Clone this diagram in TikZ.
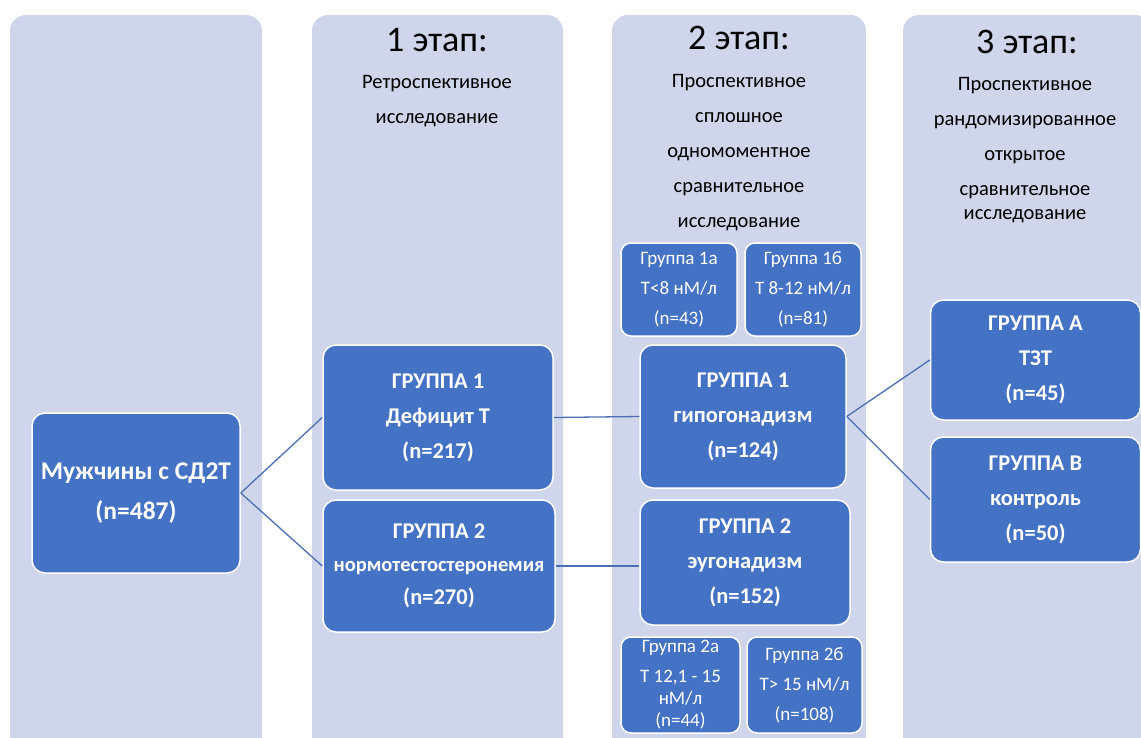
\documentclass[tikz,border=0pt]{standalone}
\usepackage{fontspec}
\setmainfont{Carlito}
\usetikzlibrary{positioning}
\definecolor{stageback}{HTML}{CFD5EA}
\definecolor{groupblue}{HTML}{4472C4}
\definecolor{linkblue}{HTML}{4A6FB5}

\begin{document}
\begin{tikzpicture}[x=1pt, y=-1pt]
        \tikzstyle{column} = [fill=stageback, rounded corners=16pt]
        \tikzstyle{group} = [rectangle, rounded corners=13pt, fill=groupblue, draw=white, line width=1.5pt, text=white, align=center, inner sep=0pt, font=\bfseries\fontsize{22.5}{35}\selectfont]
        \tikzstyle{subgroup} = [group, rounded corners=10pt, font=\fontsize{19}{30}\selectfont]
        \tikzstyle{heading} = [font=\fontsize{36}{40}\selectfont]
        \tikzstyle{caption} = [align=center, font=\fontsize{20.5}{35}\selectfont]
        \tikzstyle{link} = [draw=linkblue, line width=1.3pt]

        \clip (0,0) rectangle (1141,737);
        \fill[white] (0,0) rectangle (1141,737);

        % stage columns
        \foreach \xa/\xb in {10/262, 312/563, 612/866, 903/1151}
            \fill[column] (\xa,15) rectangle (\xb,800);

        \node (head1) [heading] at (437,40) {1 этап:};
        \node (head2) [heading] at (739,38) {2 этап:};
        \node (head3) [heading] at (1027,42) {3 этап:};
        \node (desc1) [caption] at (437,101) {Ретроспективное\\исследование};
        \node (desc2) [caption] at (739,153) {Проспективное\\сплошное\\одномоментное\\сравнительное\\исследование};
        \node (desc3) [caption] at (1025,150) {Проспективное\\рандомизированное\\открытое\\сравнительное\\[-11pt]исследование};

        \node (men) [group, minimum width=208, minimum height=160, font=\bfseries\fontsize{25.5}{40}\selectfont] at (136,493) {Мужчины с СД2Т\\(n=487)};
        \node (def) [group, minimum width=230, minimum height=145] at (438,417.5) {ГРУППА 1\\Дефицит Т\\(n=217)};
        \node (norm) [group, minimum width=232, minimum height=132, font=\bfseries\fontsize{20.5}{33}\selectfont] at (439,566) {\fontsize{22.5}{33}\selectfont ГРУППА 2\\нормотестостеронемия\\\fontsize{22.5}{33}\selectfont(n=270)};
        \node (hypo) [group, minimum width=206, minimum height=143] at (743,416.5) {ГРУППА 1\\гипогонадизм\\(n=124)};
        \node (eugo) [group, minimum width=210, minimum height=125] at (745,562.5) {ГРУППА 2\\эугонадизм\\(n=152)};
        \node (g1a) [subgroup, minimum width=116, minimum height=93] at (679,289.5) {Группа 1а\\Т<8 нМ/л\\(n=43)};
        \node (g1b) [subgroup, minimum width=116, minimum height=93] at (803,289.5) {Группа 1б\\Т 8-12 нМ/л\\(n=81)};
        \node (g2a) [subgroup, minimum width=119, minimum height=96, font=\fontsize{19}{22}\selectfont] at (680.5,685) {Группа 2а\\[8pt]Т 12,1 - 15\\нМ/л\\(n=44)};
        \node (g2b) [subgroup, minimum width=115, minimum height=96] at (804.5,685) {Группа 2б\\Т> 15 нМ/л\\(n=108)};
        \node (grpA) [group, minimum width=210, minimum height=120] at (1035.5,360) {ГРУППА А\\ТЗТ\\(n=45)};
        \node (grpB) [group, minimum width=210, minimum height=125] at (1035.5,499.5) {ГРУППА В\\контроль\\(n=50)};

        \draw [link] (men.east) -- (def.west);
        \draw [link] (men.east) -- (norm.west);
        \draw [link] (def.east) -- (hypo.west);
        \draw [link] (norm.east) -- (norm.east -| eugo.west);
        \draw [link] (hypo.east) -- (grpA.west);
        \draw [link] (hypo.east) -- (grpB.west);
\end{tikzpicture}
\end{document}
